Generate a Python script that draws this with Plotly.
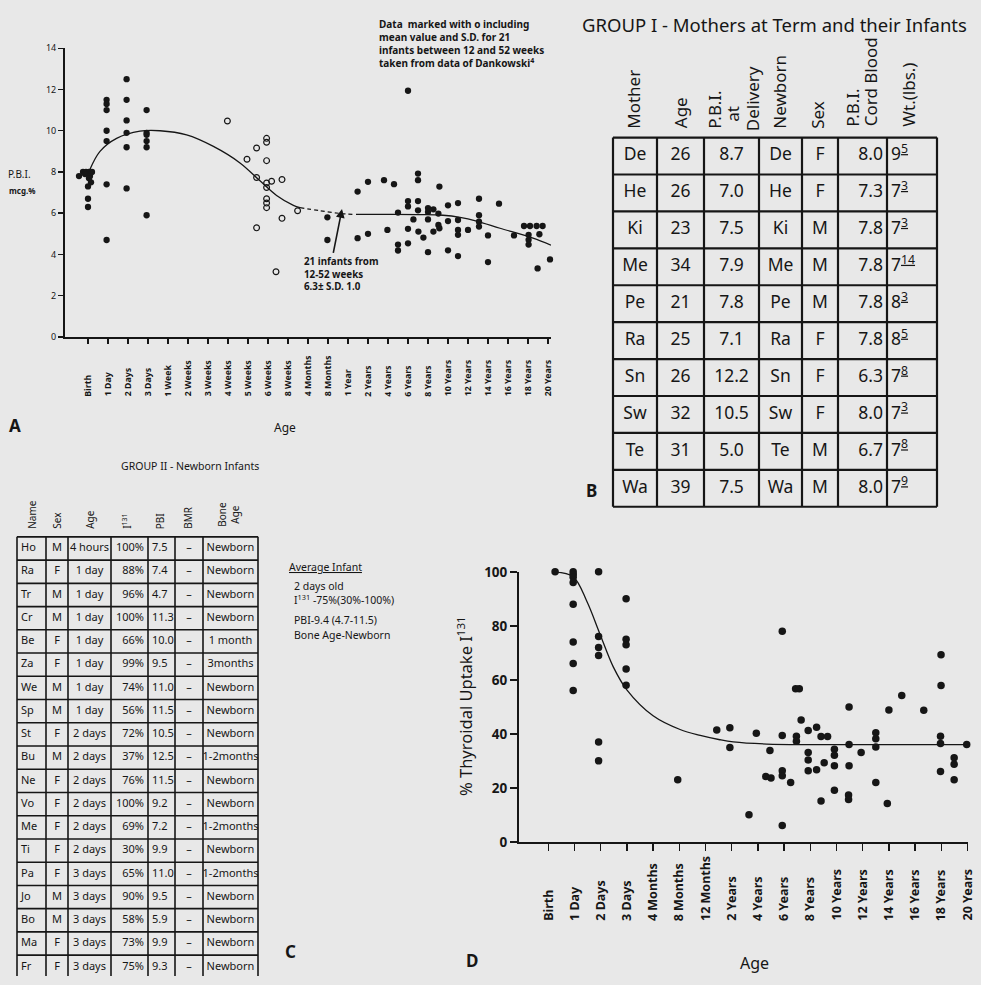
import plotly.graph_objects as go

W, H = 981, 985
BG = "#e8e8e8"
INK = "#161616"
FONT = "Noto Sans"

# ---------------- Panel A : P.B.I. vs age ----------------
A_AGE_LABELS = ["Birth", "1 Day", "2 Days", "3 Days", "1 Week", "2 Weeks", "3 Weeks",
                "4 Weeks", "5 Weeks", "6 Weeks", "8 Weeks", "4 Months", "8 Months",
                "1 Year", "2 Years", "4 Years", "6 Years", "8 Years", "10 Years",
                "12 Years", "14 Years", "16 Years", "18 Years", "20 Years"]
A_YTICKS = [0, 2, 4, 6, 8, 10, 12, 14]

# filled dots: position on the age scale (0 = Birth, 1 = 1 Day, ...) and PBI mcg.%
a_dot_age = ([-0.45, -0.25, -0.1, 0.05, 0.2, -0.15, 0.1, 0.15, 0.0, 0.0, 0.0, 0.05]
             + [0.93] * 7 + [1.93] * 6 + [2.93] * 6 + [11.97, 11.97]
             + [13.48, 13.48, 14.0, 14.0, 14.8, 14.97, 15.3, 15.5, 15.5, 15.5,
                16.0, 16.0, 16.0, 16.0, 16.0, 16.5, 16.5, 16.5, 16.5, 16.27, 16.52, 16.77,
                17.0, 17.0, 17.0, 17.0, 17.27, 17.27, 17.52, 17.57, 17.52, 17.57,
                18.0, 18.0, 18.0, 18.5, 18.5, 18.5, 18.5, 18.5, 19.0,
                19.55, 19.55, 19.55, 19.55, 20.0, 20.0, 20.55, 21.3,
                21.8, 22.1, 22.43, 22.73, 22.03, 22.03, 22.03, 22.57, 22.48, 23.1])
a_dot_pbi = ([7.8, 8.0, 8.0, 8.0, 8.0, 7.9, 7.8, 7.5, 7.3, 6.7, 6.3, 7.7]
             + [11.5, 11.3, 11.0, 10.0, 9.5, 7.4, 4.7]
             + [12.5, 11.5, 10.5, 9.9, 9.2, 7.2]
             + [11.0, 9.9, 9.8, 9.5, 9.2, 5.9]
             + [5.8, 4.7]
             + [7.05, 4.79, 7.52, 5.0, 7.6, 5.19, 7.41, 6.03, 4.48, 4.19,
                11.94, 6.59, 6.33, 5.24, 4.54, 7.92, 7.6, 6.59, 6.14, 5.7, 5.11, 4.82,
                6.25, 6.06, 5.7, 4.11, 6.19, 5.11, 5.98, 7.29, 5.43, 5.27,
                6.38, 5.62, 4.2, 6.49, 5.67, 5.19, 4.95, 3.92, 5.19,
                6.7, 5.9, 5.59, 5.35, 4.92, 3.63, 6.46, 4.92,
                5.38, 5.38, 5.38, 5.38, 4.95, 4.71, 4.48, 4.98, 3.32, 3.76])

# open circles (data of Dankowski)
a_open_age = [6.97, 7.95, 8.43, 8.43, 8.43, 8.93, 8.93, 8.93, 8.93, 8.93, 8.93, 8.93, 8.93,
              9.18, 9.4, 9.7, 9.7, 10.48]
a_open_pbi = [10.47, 8.62, 9.16, 7.73, 5.29, 9.63, 9.44, 8.55, 7.46, 7.25, 6.7, 6.49, 6.27,
              7.55, 3.16, 7.63, 5.75, 6.12]

# fitted curve (solid / dashed / solid)
a_fit1_age = [0.1, 0.6, 1.43, 2.6, 3.6, 4.93, 6.27, 7.6, 8.6, 9.43, 10.27, 10.6]
a_fit1_pbi = [8.13, 9.0, 9.63, 9.98, 10.0, 9.8, 9.24, 8.44, 7.57, 6.86, 6.38, 6.27]
a_fitd_age = [10.6, 11.6, 12.6, 13.3]
a_fitd_pbi = [6.27, 6.12, 5.99, 5.94]
a_fit2_age = [13.4, 15.0, 16.5, 17.75, 18.6, 19.43, 20.6, 22.25, 23.15]
a_fit2_pbi = [5.94, 5.94, 5.93, 5.9, 5.8, 5.62, 5.27, 4.79, 4.45]

# ---------------- Panel B : Group I table ----------------
b_mother = ["De", "He", "Ki", "Me", "Pe", "Ra", "Sn", "Sw", "Te", "Wa"]
b_age = ["26", "26", "23", "34", "21", "25", "26", "32", "31", "39"]
b_pbi_delivery = ["8.7", "7.0", "7.5", "7.9", "7.8", "7.1", "12.2", "10.5", "5.0", "7.5"]
b_newborn = ["De", "He", "Ki", "Me", "Pe", "Ra", "Sn", "Sw", "Te", "Wa"]
b_sex = ["F", "F", "M", "M", "M", "F", "F", "F", "M", "M"]
b_pbi_cord = ["8.0", "7.3", "7.8", "7.8", "7.8", "7.8", "6.3", "8.0", "6.7", "8.0"]
b_wt_lbs = [9, 7, 7, 7, 8, 8, 7, 7, 7, 7]
b_wt_oz = [5, 3, 3, 14, 3, 5, 8, 3, 8, 9]

# ---------------- Panel C : Group II table ----------------
c_name = ["Ho", "Ra", "Tr", "Cr", "Be", "Za", "We", "Sp", "St", "Bu", "Ne", "Vo", "Me",
          "Ti", "Pa", "Jo", "Bo", "Ma", "Fr"]
c_sex = ["M", "F", "M", "M", "F", "F", "M", "M", "F", "M", "F", "F", "F", "F", "F", "M",
         "M", "F", "F"]
c_age = ["4 hours"] + ["1 day"] * 7 + ["2 days"] * 6 + ["3 days"] * 5
c_i131 = ["100%", "88%", "96%", "100%", "66%", "99%", "74%", "56%", "72%", "37%", "76%",
          "100%", "69%", "30%", "65%", "90%", "58%", "73%", "75%"]
c_pbi = ["7.5", "7.4", "4.7", "11.3", "10.0", "9.5", "11.0", "11.5", "10.5", "12.5", "11.5",
         "9.2", "7.2", "9.9", "11.0", "9.5", "5.9", "9.9", "9.3"]
c_bmr = ["–"] * 19
c_bone = ["Newborn", "Newborn", "Newborn", "Newborn", "1 month", "3months", "Newborn",
          "Newborn", "Newborn", "1-2months", "Newborn", "Newborn", "1-2months", "Newborn",
          "1-2months", "Newborn", "Newborn", "Newborn", "Newborn"]

# ---------------- Panel D : thyroidal uptake ----------------
D_AGE_LABELS = ["Birth", "1 Day", "2 Days", "3 Days", "4 Months", "8 Months", "12 Months",
                "2 Years", "4 Years", "6 Years", "8 Years", "10 Years", "12 Years",
                "14 Years", "16 Years", "18 Years", "20 Years"]
D_YTICKS = [0, 20, 40, 60, 80, 100]
d_age = ([0.26] + [0.95] * 8 + [1.92] * 6 + [2.97] * 5
         + [4.94, 6.43, 6.93, 6.93, 7.66, 7.94, 8.3, 8.5, 8.46,
            8.93, 8.93, 8.93, 8.93, 8.93, 9.25, 9.44, 9.58, 9.47, 9.47, 9.65,
            9.92, 9.92, 9.92, 9.92, 10.24, 10.24, 10.41, 10.66, 10.53, 10.41,
            10.92, 10.92, 10.92, 10.92, 11.48, 11.48, 11.48, 11.46, 11.46, 11.94,
            12.5, 12.5, 12.5, 12.5, 12.94, 13.0, 13.49, 14.33,
            14.99, 14.99, 14.97, 14.97, 14.97, 15.49, 15.49, 15.49, 15.97])
d_uptake = ([100] + [100, 99, 98, 96, 88, 74, 66, 56] + [100, 76, 72, 69, 37, 30]
            + [90, 75, 73, 64, 58]
            + [23.0, 41.4, 42.2, 34.9, 10.0, 40.2, 24.2, 23.6, 33.8,
               78.0, 39.4, 26.3, 24.5, 6.0, 22.0, 56.7, 56.7, 39.1, 37.2, 45.1,
               41.2, 33.1, 30.3, 26.3, 42.4, 26.7, 39.0, 39.0, 29.3, 15.1,
               34.3, 32.1, 28.2, 19.1, 49.9, 36.0, 28.2, 17.3, 15.7, 33.1,
               40.4, 38.2, 35.1, 22.0, 14.2, 48.8, 54.2, 48.7,
               69.3, 57.9, 39.1, 36.4, 26.0, 31.1, 28.7, 23.0, 36.0])
d_fit_age = [0.26, 0.95, 1.47, 1.97, 2.48, 2.99, 4.0, 5.03, 5.8, 6.55, 7.06, 8.34, 10.0,
             12.0, 14.0, 16.0]
d_fit_uptake = [100, 98.2, 89.1, 77.0, 64.8, 56.4, 46.7, 41.6, 39.4, 37.8, 37.0, 36.2,
                36.0, 36.0, 36.0, 36.0]

# ---------------- helpers ----------------
def px(x):
    return x / W


def py(y):
    return 1 - y / H


def fnt(size, weight="normal"):
    return dict(family=FONT, size=size, color=INK, weight=weight)


def txt(text, x, y, size, xanchor="left", yanchor="middle", angle=0, align="left",
        weight="normal"):
    return dict(text=text, x=px(x), y=py(y), xref="paper", yref="paper", showarrow=False,
                font=fnt(size, weight), xanchor=xanchor, yanchor=yanchor, textangle=angle,
                align=align)


fig = go.Figure()
shapes = []

# Panel A traces
fig.add_trace(go.Scatter(x=a_fit1_age, y=a_fit1_pbi, mode="lines", line=dict(color=INK, width=1.3, shape="spline"),
                         xaxis="x", yaxis="y", hoverinfo="skip"))
fig.add_trace(go.Scatter(x=a_fitd_age, y=a_fitd_pbi, mode="lines",
                         line=dict(color=INK, width=1.2, dash="4px,3px", shape="spline"),
                         xaxis="x", yaxis="y", hoverinfo="skip"))
fig.add_trace(go.Scatter(x=a_fit2_age, y=a_fit2_pbi, mode="lines", line=dict(color=INK, width=1.3, shape="spline"),
                         xaxis="x", yaxis="y", hoverinfo="skip"))
fig.add_trace(go.Scatter(x=a_dot_age, y=a_dot_pbi, mode="markers", marker=dict(size=6.3, color=INK),
                         xaxis="x", yaxis="y", cliponaxis=False, hoverinfo="skip"))
fig.add_trace(go.Scatter(x=a_open_age, y=a_open_pbi, mode="markers",
                         marker=dict(size=5.8, symbol="circle-open", color=INK, line=dict(width=1.2, color=INK)),
                         xaxis="x", yaxis="y", cliponaxis=False, hoverinfo="skip"))

# Panel D traces
fig.add_trace(go.Scatter(x=d_fit_age, y=d_fit_uptake, mode="lines", line=dict(color=INK, width=1.3, shape="spline"),
                         xaxis="x2", yaxis="y2", hoverinfo="skip"))
fig.add_trace(go.Scatter(x=d_age, y=d_uptake, mode="markers", marker=dict(size=7.5, color=INK),
                         xaxis="x2", yaxis="y2", cliponaxis=False, hoverinfo="skip"))


# ---------------- tables drawn on their own (hidden) axes ----------------
def add_table(columns, col_widths, aligns, row_h, font_size, line_w, xa, ya, pad):
    bounds = [0]
    for w in col_widths:
        bounds.append(bounds[-1] + w)
    n_rows = len(columns[0])
    xs, ys, ts, pos = [], [], [], []
    for j, col in enumerate(columns):
        for i, val in enumerate(col):
            if aligns[j] == "left":
                xs.append(bounds[j] + pad); pos.append("middle right")
            elif aligns[j] == "right":
                xs.append(bounds[j + 1] - pad); pos.append("middle left")
            else:
                xs.append((bounds[j] + bounds[j + 1]) / 2); pos.append("middle center")
            ys.append((i + 0.5) * row_h)
            ts.append(val)
    fig.add_trace(go.Scatter(x=xs, y=ys, text=ts, mode="text", textposition=pos,
                             textfont=fnt(font_size), xaxis=xa, yaxis=ya,
                             cliponaxis=False, hoverinfo="skip"))
    for b in bounds:
        shapes.append(dict(type="line", xref=xa, yref=ya, x0=b, x1=b, y0=0, y1=n_rows * row_h,
                           line=dict(color=INK, width=line_w)))
    for i in range(n_rows + 1):
        shapes.append(dict(type="line", xref=xa, yref=ya, x0=0, x1=bounds[-1], y0=i * row_h,
                           y1=i * row_h, line=dict(color=INK, width=line_w)))


b_wt = [f"{lb}<sup><u>{oz}</u></sup>" for lb, oz in zip(b_wt_lbs, b_wt_oz)]
B_COLW = [44, 47, 55, 43, 36, 49, 50]
B_ROWH = 37.6
add_table([b_mother, b_age, b_pbi_delivery, b_newborn, b_sex, b_pbi_cord, b_wt], B_COLW,
          ["center", "center", "center", "center", "center", "right", "left"],
          B_ROWH, 17.5, 2.2, "x3", "y3", 4)

C_COLW = [29, 22, 43, 37, 27, 28, 55]
C_ROWH = 23.67
add_table([c_name, c_sex, c_age, c_i131, c_pbi, c_bmr, c_bone], C_COLW,
          ["left", "center", "center", "right", "left", "center", "center"],
          C_ROWH, 11, 1.6, "x4", "y4", 4)

axis_common = dict(showline=True, linewidth=2, linecolor=INK, ticks="outside", tickcolor=INK,
                   tickwidth=1.5, showgrid=False, zeroline=False, fixedrange=True)
hidden = dict(visible=False, showgrid=False, zeroline=False, fixedrange=True)

anns = []
# panel A x tick labels (bottom aligned, rotated)
for i, lab in enumerate(A_AGE_LABELS):
    anns.append(dict(text=lab, x=i, xref="x", y=py(397), yref="paper", showarrow=False,
                     textangle=-90, xanchor="center", yanchor="bottom", font=fnt(8.8, "bold")))
# panel D x tick labels
for i, lab in enumerate(D_AGE_LABELS):
    anns.append(dict(text=lab, x=i, xref="x2", y=py(931), yref="paper", showarrow=False,
                     textangle=-90, xanchor="center", yanchor="bottom", font=fnt(12.5, "bold")))

# panel A texts
anns += [
    txt("P.B.I.", 19, 168.5, 10, xanchor="center"),
    txt("mcg.%", 22, 185, 8, xanchor="center", weight="bold"),
    txt("Age", 285, 426, 12, xanchor="center"),
    txt("A", 15, 424, 17, xanchor="center", weight="bold"),
    txt("Data  marked with o including<br>mean value and S.D. for 21<br>infants between 12 and 52 weeks"
        "<br>taken from data of Dankowski<sup>4</sup>", 377, 6, 10, yanchor="top", weight="bold"),
    txt("21 infants from<br>12-52 weeks<br>6.3± S.D. 1.0", 302, 270, 9.8, weight="bold"),
    dict(text="", x=12.7, y=6.2, xref="x", yref="y", ax=12.25, ay=4.0, axref="x", ayref="y",
         showarrow=True, arrowhead=2, arrowsize=1.1, arrowwidth=1.6, arrowcolor=INK),
]
# panel B texts
anns += [txt("GROUP I - Mothers at Term and their Infants", 774, 16, 18.5, xanchor="center"),
         txt("B", 591, 490, 17, xanchor="center", weight="bold")]
for t, x, yb in [("Mother", 633.5, 124), ("Age", 680, 124), ("P.B.I.", 715, 124),
                 ("at", 733, 117), ("Delivery", 752, 127), ("Newborn", 780, 124),
                 ("Sex", 818, 124), ("P.B.I.", 853, 122), ("Cord Blood", 870, 122),
                 ("Wt.(lbs.)", 909, 122)]:
    anns.append(txt(t, x, yb, 17, xanchor="center", yanchor="bottom", angle=-90))
# panel C texts
anns += [txt("GROUP II - Newborn Infants", 190, 465, 10.5, xanchor="center"),
         txt("C", 290, 960, 17, xanchor="center", weight="bold")]
for t, x, yb in [("Name", 32, 532), ("Sex", 57, 532), ("Age", 90, 532),
                 ("I<sup>131</sup>", 127, 532), ("PBI", 160, 532), ("BMR", 188, 532),
                 ("Bone<br>Age", 229, 530)]:
    anns.append(txt(t, x, yb, 10, xanchor="center", yanchor="bottom", angle=-90, align="center"))
anns += [txt("<u>Average Infant</u>", 287, 568, 10.5),
         txt("2 days old", 292, 588, 10.5),
         txt("I<sup>131</sup> -75%(30%-100%)", 292, 602, 10.5),
         txt("PBI-9.4 (4.7-11.5)", 292, 622, 10.5),
         txt("Bone Age-Newborn", 292, 638, 10.5)]
# panel D texts
anns += [txt("% Thyroidal Uptake I<sup>131</sup>", 465, 710, 16.5, xanchor="center", angle=-90),
         txt("Age", 754, 972, 16, xanchor="center"),
         txt("D", 472, 969, 17, xanchor="center", weight="bold")]

fig.update_layout(
    width=W, height=H, margin=dict(l=0, r=0, t=0, b=0, pad=0), paper_bgcolor=BG, plot_bgcolor=BG,
    showlegend=False, font=dict(family=FONT, color=INK),
    xaxis=dict(domain=[px(65), px(551)], range=[-1.15, 23.15], anchor="y",
               tickvals=list(range(len(A_AGE_LABELS))), showticklabels=False, ticklen=5, **axis_common),
    yaxis=dict(domain=[py(334), py(40)], range=[0, 14], anchor="x", tickvals=A_YTICKS,
               ticklen=5, tickfont=fnt(9), **axis_common),
    xaxis2=dict(domain=[px(519), px(967.5)], range=[-1.118, 16.0], anchor="y2",
                tickvals=list(range(len(D_AGE_LABELS))), showticklabels=False, ticklen=7, **axis_common),
    yaxis2=dict(domain=[py(848.3), py(573.3)], range=[0, 100], anchor="x2", tickvals=D_YTICKS,
                ticklen=7, tickfont=fnt(13.5, "bold"), **axis_common),
    # table B: 1 unit = 1 px, 2 px padding on each side so border lines are not clipped
    xaxis3=dict(domain=[px(611), px(939)], range=[-2, 326], anchor="y3", **hidden),
    yaxis3=dict(domain=[py(131 + 10 * B_ROWH + 2), py(129)], range=[10 * B_ROWH + 2, -2], anchor="x3", **hidden),
    # table C
    xaxis4=dict(domain=[px(15), px(260)], range=[-2, 243], anchor="y4", **hidden),
    yaxis4=dict(domain=[0, py(535.7)], range=[985 - 537.7, -2], anchor="x4", **hidden),
    shapes=shapes,
    annotations=anns,
)

fig.write_html("out.html", config={"displayModeBar": False, "staticPlot": True},
               post_script="document.body.style.margin='0px';document.body.style.overflow='hidden';")
